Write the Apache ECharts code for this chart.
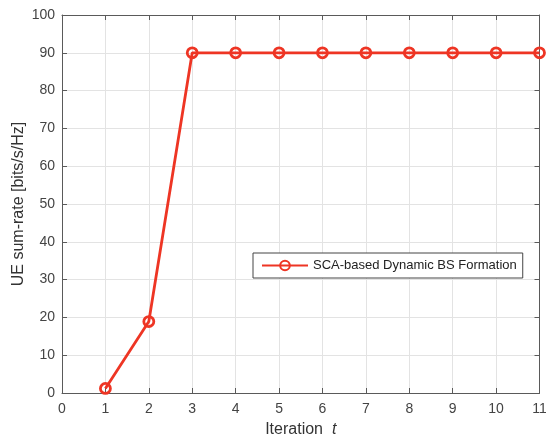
<!DOCTYPE html>
<html>
<head>
<meta charset="utf-8">
<script src="https://cdn.jsdelivr.net/npm/echarts@6/dist/echarts.min.js"></script>
<style>
  html, body { margin: 0; padding: 0; background: #fff; }
  #main { width: 546px; height: 435px; }
</style>
</head>
<body>
<div id="main"></div>
<script>
// data
const iterations = [1, 2, 3, 4, 5, 6, 7, 8, 9, 10, 11];
const sumRate = [1.2, 18.9, 90, 90, 90, 90, 90, 90, 90, 90, 90];
const seriesName = 'SCA-based Dynamic BS Formation';

let chart = echarts.init(document.getElementById('main'));

const font = 'Liberation Sans, Arial, sans-serif';
const axisColor = '#5a5a5a';
const red = '#ee3524';

let points = iterations.map(function (x, i) { return [x, sumRate[i]]; });

let option = {
    animation: false,
    textStyle: { fontFamily: font },
    grid: { left: 62, top: 15, right: 6.5, bottom: 42, outerBoundsMode: 'none', containLabel: false },
    legend: {
        data: [seriesName],
        left: 253,
        top: 253,
        itemWidth: 46,
        itemHeight: 12,
        itemGap: 4,
        padding: [6, 6, 6, 8],
        borderColor: '#444',
        borderWidth: 1,
        backgroundColor: '#fff',
        borderRadius: 0,
        textStyle: { fontFamily: font, fontSize: 13, color: '#222' }
    },
    xAxis: [{
        type: 'value',
        min: 0, max: 11, interval: 1,
        name: '{n|Iteration  }{t|t}',
        nameLocation: 'middle',
        nameGap: 29,
        nameMoveOverlap: false,
        nameTextStyle: {
            rich: {
                n: { fontFamily: font, fontSize: 16, color: '#333' },
                t: { fontFamily: font, fontSize: 16, color: '#333', fontStyle: 'italic' }
            }
        },
        axisLine: { onZero: false, lineStyle: { color: axisColor, width: 1 } },
        axisTick: { inside: true, length: 5, lineStyle: { color: axisColor } },
        axisLabel: { fontSize: 14, color: '#444', margin: 9 },
        splitLine: { show: true, lineStyle: { color: '#e3e3e3' } }
    }, {
        type: 'value', position: 'top',
        min: 0, max: 11, interval: 1,
        axisLine: { onZero: false, lineStyle: { color: axisColor, width: 1 } },
        axisTick: { inside: true, length: 5, lineStyle: { color: axisColor } },
        axisLabel: { show: false },
        splitLine: { show: false }
    }],
    yAxis: [{
        type: 'value',
        min: 0, max: 100, interval: 10,
        name: 'UE sum-rate [bits/s/Hz]',
        nameLocation: 'middle',
        nameGap: 35,
        nameMoveOverlap: false,
        nameTextStyle: { fontSize: 16, color: '#333' },
        axisLine: { show: true, onZero: false, lineStyle: { color: axisColor, width: 1 } },
        axisTick: { show: true, inside: true, length: 5, lineStyle: { color: axisColor } },
        axisLabel: { fontSize: 14, color: '#444', margin: 7 },
        splitLine: { show: true, lineStyle: { color: '#e3e3e3' } }
    }, {
        type: 'value', position: 'right',
        min: 0, max: 100, interval: 10,
        axisLine: { show: true, onZero: false, lineStyle: { color: axisColor, width: 1 } },
        axisTick: { show: true, inside: true, length: 5, lineStyle: { color: axisColor } },
        axisLabel: { show: false },
        splitLine: { show: false }
    }],
    series: [{
        name: seriesName,
        type: 'line',
        data: points,
        symbol: 'circle',
        symbolSize: 10,
        showAllSymbol: true,
        clip: false,
        lineStyle: { color: red, width: 2.8 },
        itemStyle: { color: 'rgba(255,255,255,0)', borderColor: red, borderWidth: 2.8 },
        z: 5
    }]
};

chart.setOption(option);
</script>
</body>
</html>
